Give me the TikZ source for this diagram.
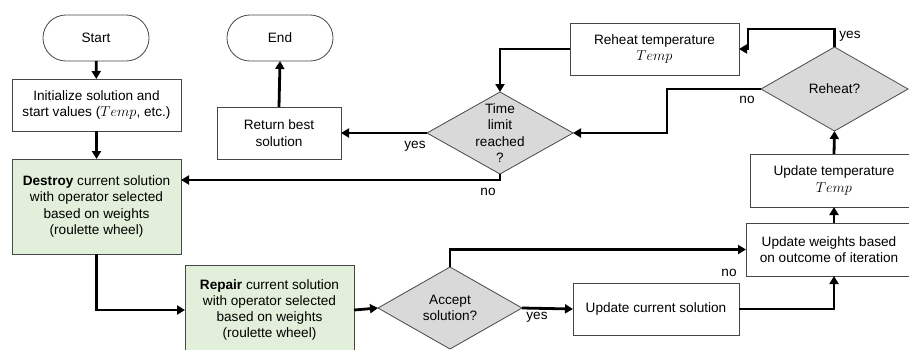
\documentclass[tikz,border=0pt]{standalone}
\usepackage{fontspec}
\setmainfont{Liberation Sans}
\usetikzlibrary{arrows.meta,shapes.geometric}

\definecolor{boxline}{RGB}{70,70,70}
\definecolor{opgreen}{RGB}{226,239,218}
\definecolor{decgray}{RGB}{217,217,217}

\newcommand{\flowfont}{\fontsize{13.6}{16.3}\selectfont}

\tikzset{
  base/.style={draw=boxline, line width=0.8pt, inner sep=0pt, outer sep=0pt,
               align=center, font=\flowfont},
  terminal/.style={base, rectangle, rounded corners=22.9pt,
                   minimum width=106pt, minimum height=46pt},
  procbox/.style={base, rectangle, fill=white},
  opbox/.style={base, rectangle, fill=opgreen},
  decision/.style={base, diamond, fill=decgray},
  flow/.style={line width=2.8pt, line join=miter,
               -{Triangle[length=8pt,width=9pt]}},
  branch/.style={font=\flowfont, inner sep=0pt}
}

\begin{document}
\begin{tikzpicture}[x=1pt, y=-1pt]
  \useasboundingbox (0,0) rectangle (909,349);
  \clip (0,0) rectangle (909,349);

  % terminals
  \node[terminal] (start) at (96,38) {Start};
  \node[terminal] (end)   at (280,38) {End};

  % process steps
  \node[procbox, minimum width=169pt, minimum height=52pt] (init) at (96.5,105)
    {Initialize solution and\\start values ($Temp$, etc.)};
  \node[opbox, minimum width=169pt, minimum height=95pt] (destroy) at (96.5,206.5)
    {\textbf{Destroy} current solution\\with operator selected\\based on weights\\(roulette wheel)};
  \node[opbox, minimum width=169pt, minimum height=90pt] (repair) at (269.5,310)
    {\textbf{Repair} current solution\\with operator selected\\based on weights\\(roulette wheel)};
  \node[procbox, minimum width=166pt, minimum height=52pt] (updcur) at (656,309)
    {Update current solution};
  \node[procbox, minimum width=166pt, minimum height=53pt] (weights) at (829,249.5)
    {Update weights based\\on outcome of iteration};
  \node[procbox, minimum width=168pt, minimum height=53pt] (updtemp) at (834,180.5)
    {Update temperature\\$Temp$};
  \node[procbox, minimum width=169pt, minimum height=52pt] (reheattemp) at (654.5,49)
    {Reheat temperature\\$Temp$};
  \node[procbox, minimum width=124pt, minimum height=52pt] (best) at (279,133)
    {Return best\\solution};

  % decisions
  \node[decision, minimum width=144pt, minimum height=82pt,
        label={[align=center, font=\flowfont]center:Accept\\solution?}]
    (accept) at (450,308) {};
  \node[decision, minimum width=147pt, minimum height=84pt,
        label={[font=\flowfont]center:Reheat?}]
    (reheat) at (834.5,89) {};
  \node[decision, minimum width=146pt, minimum height=82pt,
        label={[align=center, font=\flowfont]center:Time\\limit\\reached\\?}]
    (timelimit) at (500,133) {};

  % helper points of the loops
  \coordinate (reheatup) at (748,29);
  \coordinate (nodrop) at (500,180);

  % main flow
  \draw[flow] (start) -- (init);
  \draw[flow] (init) -- (destroy);
  \draw[flow] (destroy.south) |- (repair.west);
  \draw[flow] (repair.east) -- (accept.west);
  \draw[flow] (accept.east) -- (updcur.west);
  \draw[flow] (accept.north) |- (weights.west);
  \draw[flow] (updcur.east) -| ([xshift=5pt]weights.south);
  \draw[flow] ([xshift=5pt]weights.north) -- (updtemp.south);
  \draw[flow] (updtemp.north) -- (reheat.south);
  \draw[flow] (reheat.north) |- (reheatup) |- (reheattemp.east);
  \draw[flow] (reheat.west) -- ++(-94,0) |- (timelimit.east);
  \draw[flow] (reheattemp.west) -| (timelimit.north);
  \draw[flow] (timelimit.west) -- (best.east);
  \draw[flow] (timelimit.south) -- (nodrop) -- (nodrop -| destroy.east);
  \draw[flow] (best.north) -- (end.south);

  % branch labels
  \node[branch] (acceptyes) at (537,317) {yes};
  \node[branch] (acceptno)  at (729,273) {no};
  \node[branch] (reheatyes) at (850,36)  {yes};
  \node[branch] (reheatno)  at (747,100) {no};
  \node[branch] (timeyes)   at (415,146) {yes};
  \node[branch] (timeno)    at (488,192) {no};
\end{tikzpicture}
\end{document}
